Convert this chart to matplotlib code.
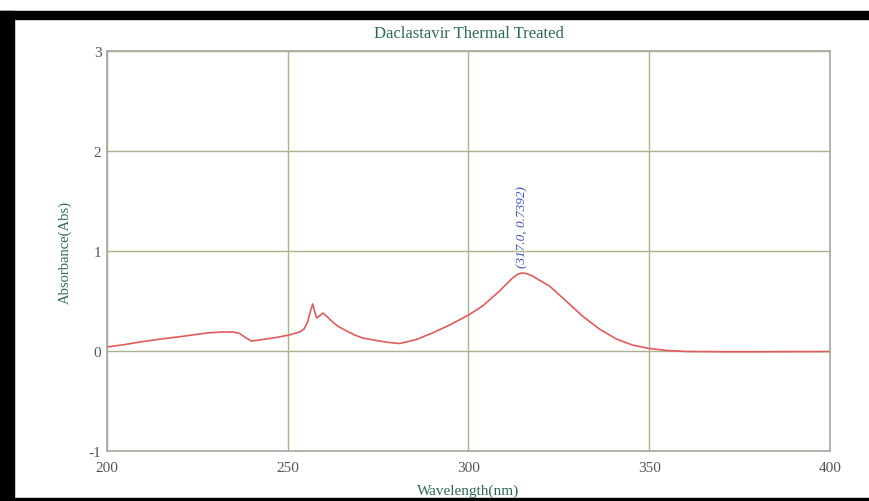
import matplotlib
matplotlib.use('Agg')
import matplotlib.pyplot as plt
from matplotlib.patches import Rectangle

comprimento_onda = [200, 205, 210, 215, 221, 227.6, 232, 235, 236.7, 238.5, 240, 243, 246,
                    250, 253.3, 254.5, 255.5, 256.3, 256.9, 257.4, 258, 258.8, 259.7, 261,
                    262.4, 264, 266.3, 268.5, 270.7, 273, 275.4, 278, 281, 285.6, 290,
                    294.8, 300, 303.9, 308.6, 310.5, 312.2, 313.5, 314.6, 316, 317.7, 320,
                    322.4, 327, 331.5, 336.2, 340.9, 345.3, 350, 355, 360, 370, 380, 390, 400]
absorbancia = [0.04, 0.065, 0.095, 0.12, 0.147, 0.18, 0.19, 0.19, 0.175, 0.13, 0.10, 0.115, 0.13,
               0.157, 0.19, 0.22, 0.29, 0.40, 0.47, 0.40, 0.33, 0.35, 0.38, 0.34,
               0.29, 0.245, 0.20, 0.16, 0.13, 0.115, 0.10, 0.085, 0.075, 0.115, 0.18,
               0.26, 0.36, 0.45, 0.60, 0.67, 0.73, 0.765, 0.78, 0.775, 0.75, 0.70,
               0.65, 0.50, 0.35, 0.22, 0.12, 0.06, 0.025, 0.005, -0.005, -0.008, -0.008, -0.007, -0.006]

pico_x = 315
pico_rotulo = '(317.0, 0.7392)'

titulo = 'Daclastavir Thermal Treated'
xticks = [200, 250, 300, 350, 400]
yticks = [-1, 0, 1, 2, 3]

verde = '#2f6b50'
cor_grade = '#aeb08e'

plt.rcParams['font.family'] = ['Liberation Serif', 'DejaVu Serif']
plt.rcParams['axes.unicode_minus'] = False

fig = plt.figure(figsize=(8.69, 5.02), dpi=100)
ax = fig.add_axes([107 / 869, 1 - 452 / 502, 723 / 869, 400 / 502])

ax.plot(comprimento_onda, absorbancia, color='#e05c5c', linewidth=1.2)

ax.set_xlim(200, 400)
ax.set_ylim(-1, 3)
ax.set_xticks(xticks)
ax.set_yticks(yticks)
ax.grid(True, color=cor_grade, linewidth=1.0)
ax.set_axisbelow(True)
for s in ax.spines.values():
    s.set_color('#a8a8a0')
    s.set_linewidth(1.2)
ax.tick_params(length=0, labelsize=11, labelcolor='#555555')
ax.tick_params(axis='x', pad=7)
ax.tick_params(axis='y', pad=4)

ax.set_title(titulo, fontsize=12, color=verde, pad=10)
ax.set_xlabel('Wavelength(nm)', fontsize=11, color=verde, labelpad=7)
ax.set_ylabel('Absorbance(Abs)', fontsize=10.5, color=verde, labelpad=12)

ax.text(pico_x, 0.84, pico_rotulo, rotation=90, ha='center', va='bottom',
        fontsize=9.5, style='italic', color='#3a50c0')

# moldura preta da captura
fig.patches.append(Rectangle((0, 0), 14 / 869, 490 / 502, transform=fig.transFigure,
                             color='black', zorder=10))
fig.patches.append(Rectangle((0, 1 - 20 / 502), 1, 8 / 502, transform=fig.transFigure,
                             color='black', zorder=10))
fig.patches.append(Rectangle((0, 0), 1, 3 / 502, transform=fig.transFigure,
                             color='black', zorder=10))

fig.savefig('out.png', dpi=100)
